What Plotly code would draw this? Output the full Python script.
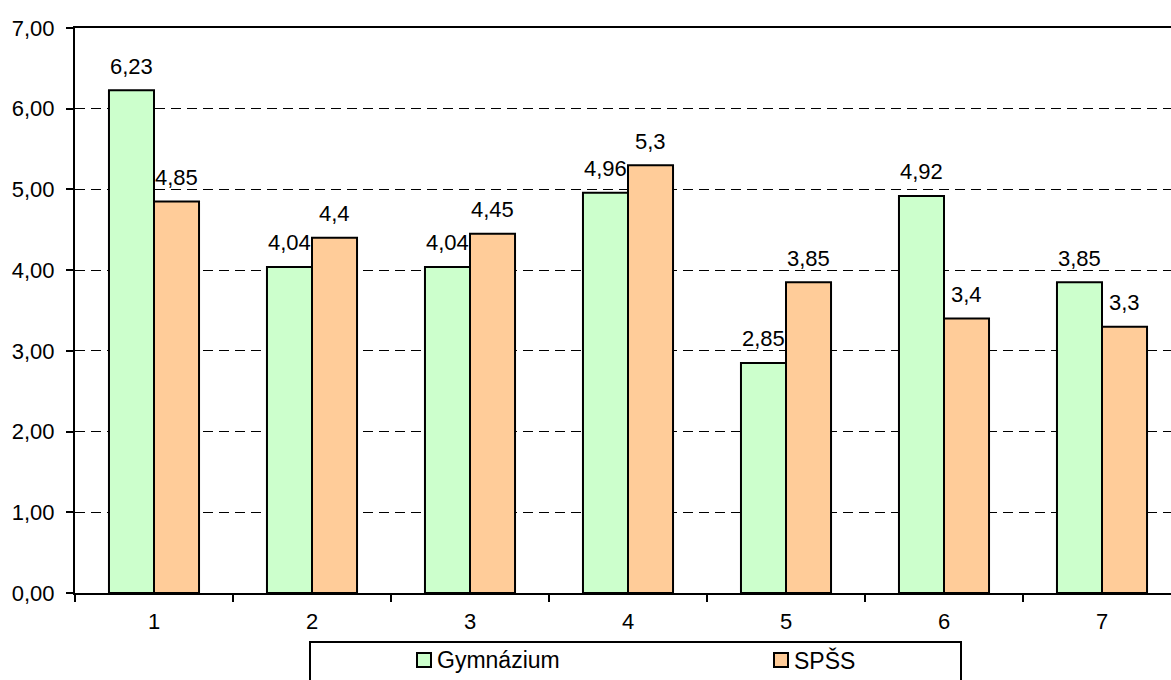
import plotly.graph_objects as go

# Chart data
categories = ["1", "2", "3", "4", "5", "6", "7"]
series_names = ["Gymnázium", "SPŠS"]
gymnazium = [6.23, 4.04, 4.04, 4.96, 2.85, 4.92, 3.85]
spss = [4.85, 4.4, 4.45, 5.3, 3.85, 3.4, 3.3]
y_ticks = [0, 1, 2, 3, 4, 5, 6, 7]

colors = ["#CCFFCC", "#FFCC99"]
FONT = "Liberation Sans, Arial, sans-serif"

W, H = 1171, 680
ML, MT, MB = 75, 28, 87
CAT_PX = 158
BARGAP = 0.43
plot_w = W - ML
plot_h = H - MT - MB


def px_x(px):
    return (px - ML) / plot_w


def px_y(py):
    return (H - MB - py) / plot_h


def fmt(v):
    return ("%g" % v).replace(".", ",")


fig = go.Figure()
for name, vals, col in zip(series_names, [gymnazium, spss], colors):
    fig.add_trace(go.Bar(
        x=categories, y=vals, name=name,
        marker=dict(color=col, line=dict(color="black", width=2)),
        showlegend=False,
    ))

# value labels above each bar
half = (1 - BARGAP) / 4
annotations = []
for k, vals in enumerate([gymnazium, spss]):
    off = -half if k == 0 else half
    for i, v in enumerate(vals):
        annotations.append(dict(
            x=i + off, y=v, xref="x", yref="y", text=fmt(v),
            showarrow=False, yanchor="middle", yshift=24,
            font=dict(family=FONT, size=22, color="black"),
        ))

# legend box with entries
shapes = [dict(type="rect", xref="paper", yref="paper",
               x0=px_x(310), x1=px_x(961), y0=px_y(642), y1=px_y(720),
               line=dict(color="black", width=2), fillcolor="rgba(0,0,0,0)")]
legend_pos = [417, 774]
for name, col, lx in zip(series_names, colors, legend_pos):
    shapes.append(dict(type="rect", xref="paper", yref="paper",
                       x0=px_x(lx), x1=px_x(lx + 14), y0=px_y(653), y1=px_y(667),
                       line=dict(color="black", width=2), fillcolor=col))
    annotations.append(dict(
        x=px_x(lx + 18), y=px_y(660), xref="paper", yref="paper",
        text=name, showarrow=False, xanchor="left", yanchor="middle",
        font=dict(family=FONT, size=23, color="black"),
    ))

fig.update_layout(
    width=W, height=H,
    margin=dict(l=ML, r=0, t=MT, b=MB),
    paper_bgcolor="white", plot_bgcolor="white",
    barmode="group", bargap=BARGAP, bargroupgap=0,
    separators=",.",
    font=dict(family=FONT, size=22, color="black"),
    annotations=annotations, shapes=shapes,
)
fig.update_xaxes(
    type="category", range=[-0.5, -0.5 + plot_w / CAT_PX],
    showline=True, linecolor="black", linewidth=2, mirror=True,
    ticks="outside", tickson="boundaries", ticklen=7, tickwidth=2, tickcolor="black",
    showgrid=False, tickfont=dict(size=22), ticklabelstandoff=8,
)
fig.update_yaxes(
    range=[0, 7], tickvals=y_ticks, tickformat=".2f",
    showline=True, linecolor="black", linewidth=2,
    ticks="outside", ticklen=7, tickwidth=2, tickcolor="black",
    showgrid=True, gridcolor="black", gridwidth=1, griddash="10px,6px",
    zeroline=False, tickfont=dict(size=22), ticklabelstandoff=7,
)

fig.write_html("out.html")
